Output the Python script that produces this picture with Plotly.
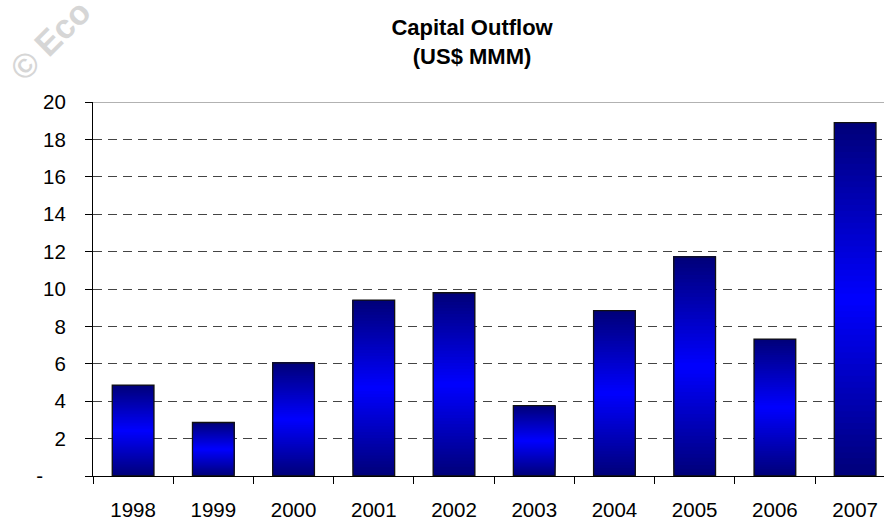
import plotly.graph_objects as go

years = ["1998", "1999", "2000", "2001", "2002", "2003", "2004", "2005", "2006", "2007"]
outflow = [4.86, 2.86, 6.05, 9.4, 9.8, 3.76, 8.84, 11.72, 7.32, 18.9]
ytick_vals = [0, 2, 4, 6, 8, 10, 12, 14, 16, 18, 20]
ytick_text = ["-    ", "2", "4", "6", "8", "10", "12", "14", "16", "18", "20"]

N = 60
dark = (0, 0, 120)
bright = (0, 0, 255)

def grad_color(t):
    # dark at bottom and top, bright in the middle
    f = 1 - abs(t - 0.5) * 2
    c = [round(dark[k] + (bright[k] - dark[k]) * f) for k in range(3)]
    return f"rgb({c[0]},{c[1]},{c[2]})"

fig = go.Figure()
bw = 0.52
# gradient: each layer starts higher and runs to the top of the bar,
# later layers painted over earlier ones (no seams)
for i in range(N):
    t = (i + 0.5) / N
    fig.add_trace(go.Bar(
        x=years,
        y=[v * (1 - i / N) for v in outflow],
        base=[v * i / N for v in outflow],
        width=bw,
        marker=dict(color=grad_color(t), line=dict(width=0)),
        hoverinfo="skip",
        showlegend=False,
    ))
# outline
fig.add_trace(go.Bar(
    x=years, y=outflow, width=bw,
    marker=dict(color="rgba(0,0,0,0)", line=dict(color="#111", width=1.3)),
    showlegend=False,
))

fig.update_layout(
    barmode="overlay",
    width=884, height=521,
    margin=dict(l=93, r=0, t=102, b=42),
    paper_bgcolor="white", plot_bgcolor="white",
    font=dict(family="Liberation Sans, Arial, sans-serif", size=20.5, color="black"),
    title=dict(
        text="<b>Capital Outflow<br>(US$ MMM)</b>",
        x=0.534, xanchor="center", y=0.933, yanchor="top",
        font=dict(size=22, color="black"),
    ),
    xaxis=dict(
        type="category",
        range=[-0.5, 9.36],
        showline=True, linecolor="black", linewidth=1,
        ticks="outside", ticklen=7, tickcolor="black", tickson="boundaries",
        ticklabelstandoff=15,
        showgrid=False,
    ),
    yaxis=dict(
        range=[0, 20],
        tickvals=ytick_vals, ticktext=ytick_text,
        showline=True, linecolor="black", linewidth=1,
        ticks="outside", ticklen=7, tickcolor="black",
        ticklabelstandoff=15,
        showgrid=True, gridcolor="#444", gridwidth=1, griddash="9px,6px",
        zeroline=False,
    ),
    shapes=[dict(type="line", xref="paper", x0=0, x1=1, yref="y", y0=20, y1=20,
                 line=dict(color="#999", width=1.5))],
    annotations=[dict(
        text="<b>© Eco</b>", xref="paper", yref="paper",
        x=-0.054, y=1.165, xanchor="center", yanchor="middle",
        textangle=-45, showarrow=False,
        font=dict(size=34, color="#d6d6d6"),
    )],
)

fig.write_html("out.html", config={"displayModeBar": False},
               post_script="document.body.style.margin='0';")
